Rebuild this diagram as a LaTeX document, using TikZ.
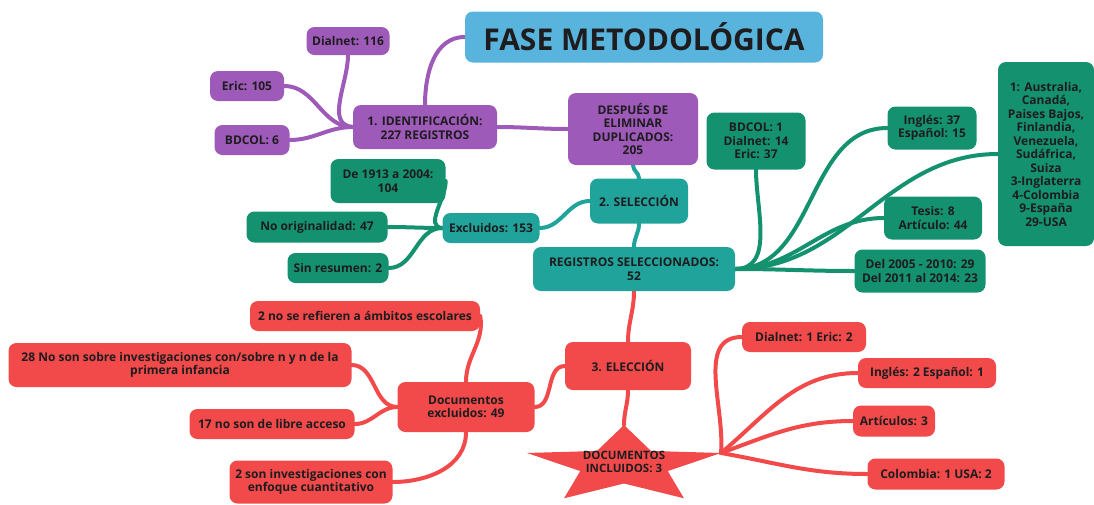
\documentclass[tikz,border=0pt]{standalone}
\usepackage{fontspec}
\setmainfont{Open Sans}
\usetikzlibrary{backgrounds}

\definecolor{TitleBlue}{RGB}{88,180,220}
\definecolor{PurpleNode}{RGB}{158,90,185}
\definecolor{TealNode}{RGB}{32,163,154}
\definecolor{GreenNode}{RGB}{20,146,112}
\definecolor{RedNode}{RGB}{242,74,74}
\definecolor{TextDark}{RGB}{30,28,30}

\tikzset{
  mapbox/.style={rounded corners=8pt, align=center, text=TextDark, inner sep=2pt,
    font=\bfseries\fontsize{12}{13.5}\selectfont},
  titlebox/.style={mapbox, fill=TitleBlue, font=\bfseries\fontsize{30}{33}\selectfont},
  purplebox/.style={mapbox, fill=PurpleNode},
  tealbox/.style={mapbox, fill=TealNode},
  greenbox/.style={mapbox, fill=GreenNode},
  redbox/.style={mapbox, fill=RedNode},
  branch/.style={line width=4pt, line cap=round},
}

\begin{document}
\begin{tikzpicture}[x=1pt,y=1pt]
\useasboundingbox (0,0) rectangle (1094,-504);

        \node[titlebox, minimum width=358, minimum height=51] (Title) at (644,-37) {FASE METODOLÓGICA};

        %% 1. identificacion
        \node[purplebox, minimum width=144, minimum height=44] (Ident) at (425,-127) {1. IDENTIFICACIÓN:\\227 REGISTROS};
        \node[purplebox, minimum width=83, minimum height=28] (Dialnet116) at (348,-41) {Dialnet: 116};
        \node[purplebox, minimum width=74, minimum height=30] (Eric105) at (247,-86) {Eric: 105};
        \node[purplebox, minimum width=75, minimum height=30] (BDCOL6) at (252,-140) {BDCOL: 6};
        \node[purplebox, minimum width=130, minimum height=72] (Despues) at (633,-129) {DESPUÉS DE\\ELIMINAR\\DUPLICADOS:\\205};

        %% 2. seleccion
        \node[tealbox, minimum width=98, minimum height=45] (Seleccion) at (639,-201) {2. SELECCIÓN};
        \node[tealbox, minimum width=202, minimum height=44] (Registros) at (634,-269) {REGISTROS SELECCIONADOS:\\52};
        \node[tealbox, minimum width=97, minimum height=30] (Excluidos153) at (491,-228) {Excluidos: 153};

        \node[greenbox, minimum width=115, minimum height=44] (De1913) at (388,-181) {De 1913 a 2004:\\104};
        \node[greenbox, minimum width=141, minimum height=31] (NoOrig) at (317,-227) {No originalidad: 47};
        \node[greenbox, minimum width=101, minimum height=30] (SinRes) at (338,-268) {Sin resumen: 2};

        \node[greenbox, minimum width=99, minimum height=57] (BDCOL1) at (756,-141) {BDCOL: 1\\Dialnet: 14\\Eric: 37};
        \node[greenbox, minimum width=89, minimum height=43] (Ingles37) at (932,-128) {Inglés: 37\\Español: 15};
        \node[greenbox, minimum width=96, minimum height=184] (Paises) at (1046,-154) {1: Australia,\\Canadá,\\Paises Bajos,\\Finlandia,\\Venezuela,\\Sudáfrica,\\Suiza\\3-Inglaterra\\4-Colombia\\9-España\\29-USA};
        \node[greenbox, minimum width=98, minimum height=43] (Tesis) at (933,-218) {Tesis: 8\\Artículo: 44};
        \node[greenbox, minimum width=131, minimum height=43] (Del2005) at (920,-271) {Del 2005 - 2010: 29\\Del 2011 al 2014: 23};

        %% 3. eleccion
        \node[redbox, minimum width=126, minimum height=48] (Eleccion) at (628,-366) {3. ELECCIÓN};
        \node[redbox, minimum width=137, minimum height=50] (DocExcl) at (466,-407) {Documentos\\excluidos: 49};
        \node[redbox, minimum width=230, minimum height=30] (NoRefieren) at (365,-316) {2 no se refieren a ámbitos escolares};
        \node[redbox, minimum width=343, minimum height=44] (NoSon28) at (180,-365) {28 No son sobre investigaciones con/sobre n y n de la\\primera infancia};
        \node[redbox, minimum width=165, minimum height=30] (Libre17) at (272,-424) {17 no son de libre acceso};
        \node[redbox, minimum width=163, minimum height=43] (Cuanti2) at (311,-482) {2 son investigaciones con\\enfoque cuantitativo};

        \begin{scope}[shift={(624,-465.5)}]
          \fill[RedNode] (90:102 and 40.5) -- (126:46 and 18) -- (162:102 and 40.5) -- (198:46 and 18)
            -- (234:102 and 40.5) -- (270:46 and 18) -- (306:102 and 40.5) -- (342:46 and 18)
            -- (18:102 and 40.5) -- (54:46 and 18) -- cycle;
          \coordinate (StarTop) at (90:102 and 40.5);
          \coordinate (StarTip) at (18:102 and 40.5);
        \end{scope}
        \node[mapbox, font=\bfseries\fontsize{11.5}{13}\selectfont] (Incluidos) at (624,-462) {DOCUMENTOS\\INCLUIDOS: 3};

        \node[redbox, minimum width=124, minimum height=30] (Dialnet1) at (804,-337) {Dialnet: 1 Eric: 2};
        \node[redbox, minimum width=138, minimum height=30] (Ingles2) at (927,-373) {Inglés: 2 Español: 1};
        \node[redbox, minimum width=82, minimum height=31] (Articulos3) at (894,-421) {Artículos: 3};
        \node[redbox, minimum width=137, minimum height=31] (Colombia1) at (936,-474) {Colombia: 1 USA: 2};

        \begin{pgfonlayer}{background}
        \draw[branch, PurpleNode] (Ident.west) to[out=175,in=-90] (Dialnet116.south);
        \draw[branch, PurpleNode] (Ident.west) to[out=180,in=0] (Eric105.east);
        \draw[branch, PurpleNode] (Ident.west) to[out=180,in=0] (BDCOL6.east);
        \draw[branch, PurpleNode] (Ident.north) to[out=90,in=180] (Title.west);
        \draw[branch, PurpleNode] (Ident.east) to[out=0,in=180] (Despues.west);

        \draw[branch, TealNode] (Despues.south) to[out=-90,in=90] (Seleccion.north);
        \draw[branch, TealNode] (Seleccion.south) to[out=-90,in=90] (Registros.north);
        \draw[branch, TealNode] (Seleccion.west) to[out=180,in=0] (Excluidos153.east);

        \draw[branch, GreenNode] (Excluidos153.west) to[out=175,in=-90] (De1913.east);
        \draw[branch, GreenNode] (Excluidos153.west) to[out=180,in=0] (NoOrig.east);
        \draw[branch, GreenNode] (Excluidos153.west) to[out=180,in=0] (SinRes.east);

        \draw[branch, GreenNode] (Registros.east) to[out=0,in=-90] (BDCOL1.south);
        \draw[branch, GreenNode] (Registros.east) to[out=0,in=180] (Ingles37.west);
        \draw[branch, GreenNode] (Registros.east) to[out=0,in=180] (Paises.west);
        \draw[branch, GreenNode] (Registros.east) to[out=0,in=180] (Tesis.west);
        \draw[branch, GreenNode] (Registros.east) to[out=0,in=180] (Del2005.west);

        \draw[branch, RedNode] (Registros.south) to[out=-90,in=90] (Eleccion.north);
        \draw[branch, RedNode] (Eleccion.west) to[out=180,in=0] (DocExcl.east);
        \draw[branch, RedNode] (Eleccion.south) to[out=-90,in=90] (StarTop);
        \draw[branch, RedNode] (DocExcl.north) to[out=90,in=-80] (NoRefieren.east);
        \draw[branch, RedNode] (DocExcl.west) to[out=180,in=0] (NoSon28.east);
        \draw[branch, RedNode] (DocExcl.west) to[out=180,in=0] (Libre17.east);
        \draw[branch, RedNode] (DocExcl.south) to[out=-90,in=0] (Cuanti2.east);

        \draw[branch, RedNode] (StarTip) to[out=85,in=180] (Dialnet1.west);
        \draw[branch, RedNode] (StarTip) to[out=40,in=180] (Ingles2.west);
        \draw[branch, RedNode] (StarTip) to[out=20,in=180] (Articulos3.west);
        \draw[branch, RedNode] (StarTip) to[out=-10,in=180] (Colombia1.west);
        \end{pgfonlayer}
\end{tikzpicture}
\end{document}
